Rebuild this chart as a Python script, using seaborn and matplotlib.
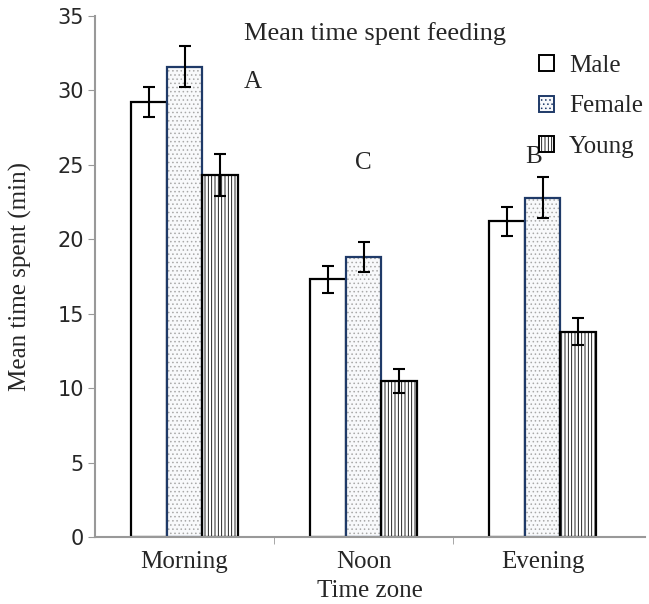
import matplotlib
matplotlib.use("Agg")
import matplotlib.pyplot as plt
import seaborn as sns
import pandas as pd
import numpy as np
from matplotlib.patches import Patch, Rectangle

categories = ["Morning", "Noon", "Evening"]
groups = ["Male", "Female", "Young"]
male = [29.2, 17.3, 21.2]
female = [31.6, 18.8, 22.8]
young = [24.3, 10.5, 13.8]
male_err = [1.0, 0.9, 1.0]
female_err = [1.4, 1.0, 1.4]
young_err = [1.4, 0.8, 0.9]
letters = ["A", "C", "B"]
yticks = [0, 5, 10, 15, 20, 25, 30, 35]

rows = []
for i, c in enumerate(categories):
    rows.append((c, "Male", male[i], male_err[i]))
    rows.append((c, "Female", female[i], female_err[i]))
    rows.append((c, "Young", young[i], young_err[i]))
df = pd.DataFrame(rows, columns=["zone", "sex", "value", "err"])

sns.set_style("white")
plt.rcParams['font.family'] = ['Liberation Serif', 'DejaVu Serif']
plt.rcParams['hatch.linewidth'] = 0.6

fig = plt.figure(figsize=(6.49, 6.04), dpi=100)
ax = fig.add_axes([0.1464, 0.1109, (645 - 95) / 649, 0.8626])

sns.barplot(data=df, x="zone", y="value", hue="sex", order=categories,
            hue_order=groups, errorbar=None, width=0.6, ax=ax,
            palette=["white", "white", "white"], legend=False)

styles = {
    "Male": dict(fc="white", ec="black", hatch=None, hc="black"),
    "Female": dict(fc="#f8f9fb", ec="#1f3a68", hatch="....", hc="#a8a8a8"),
    "Young": dict(fc="white", ec="black", hatch="|||||", hc="black"),
}

for container, g in zip(ax.containers, groups):
    st = styles[g]
    sub = df[df.sex == g].set_index("zone").loc[categories]
    xs, ys = [], []
    for bar in container.patches:
        bar.set_facecolor(st["fc"])
        if st["hatch"]:
            bar.set_hatch(st["hatch"])
            bar.set_edgecolor(st["hc"])
            bar.set_linewidth(0)
            outline = Rectangle(bar.get_xy(), bar.get_width(), bar.get_height(),
                                fill=False, edgecolor=st["ec"], linewidth=1.6, zorder=bar.get_zorder() + 0.1)
            ax.add_patch(outline)
        else:
            bar.set_edgecolor(st["ec"])
            bar.set_linewidth(1.6)
        xs.append(bar.get_x() + bar.get_width() / 2)
        ys.append(bar.get_height())
    ax.errorbar(xs, ys, yerr=sub["err"].values, fmt="none", ecolor="black",
                elinewidth=1.5, capsize=4, capthick=1.5, zorder=5)

ax.set_ylim(0, 35)
ax.set_xlim(-0.5, -0.5 + (645 - 95) / 179)
ax.set_yticks(yticks)
ax.set_yticklabels([str(t) for t in yticks], family="DejaVu Sans", fontsize=15)
ax.set_xticks(range(len(categories)))
ax.set_xticklabels(categories, fontsize=18)
ax.set_xticks([0.5, 1.5], minor=True)
ax.tick_params(axis="x", which="major", length=0, pad=10)
ax.tick_params(axis="x", which="minor", length=5, color="#999999", direction="out", bottom=True)
ax.tick_params(axis="y", length=5, color="#999999", direction="out", left=True, pad=3)

for s in ["top", "right"]:
    ax.spines[s].set_visible(False)
for s in ["left", "bottom"]:
    ax.spines[s].set_color("#999999")
    ax.spines[s].set_linewidth(1.5)

ax.set_xlabel("Time zone", fontsize=18, labelpad=5)
ax.set_ylabel("Mean time spent (min)", fontsize=18, labelpad=18)

ax.text((375 - 95) / 550, 0.967, "Mean time spent feeding", transform=ax.transAxes,
        ha="center", va="center", fontsize=19)

# significance letters placed relative to category positions
letter_pos = [(0.38, 30.6), (0.0, 25.1), (-0.05, 25.5)]
for i, (lt, (dx, yy)) in enumerate(zip(letters, letter_pos)):
    ax.text(i + dx, yy, lt, ha="center", va="center", fontsize=18)

handles = [Patch(facecolor=styles[g]["fc"], edgecolor=styles[g]["ec"],
                 hatch=styles[g]["hatch"], linewidth=1.4) for g in groups]
leg = ax.legend(handles, groups, loc="upper left", bbox_to_anchor=((529 - 95) / 550, 0.945),
                frameon=False, fontsize=18, handlelength=0.6, handleheight=0.6,
                handletextpad=0.6, labelspacing=0.75, borderaxespad=0)

fig.savefig("out.png", dpi=100)
